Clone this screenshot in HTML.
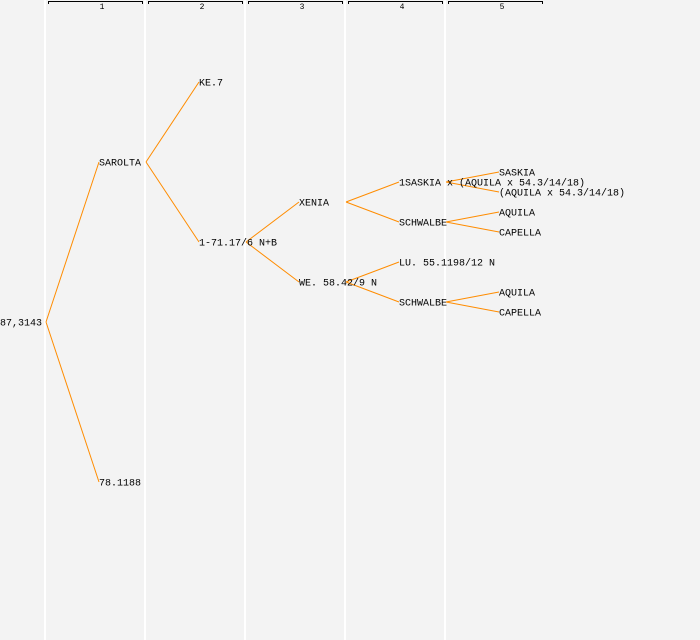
<!DOCTYPE html>
<html><head><meta charset="utf-8"><style>
html,body{margin:0;padding:0;background:#f3f3f3;}
svg{display:block;}
text{font-family:"Liberation Mono","DejaVu Sans Mono",monospace;font-size:10px;fill:#000;}
.n{font-size:8px;}
</style></head><body>
<svg width="700" height="640" xmlns="http://www.w3.org/2000/svg">
<rect width="700" height="640" fill="#f3f3f3"/>
<g stroke="#fff" stroke-width="2">
<line x1="45" y1="0" x2="45" y2="640"/><line x1="145" y1="0" x2="145" y2="640"/>
<line x1="245" y1="0" x2="245" y2="640"/><line x1="345" y1="0" x2="345" y2="640"/>
<line x1="445" y1="0" x2="445" y2="640"/>
</g>
<g stroke="#000" stroke-width="1" fill="none">
<path d="M48.5 4V1.5H142.5V4"/><path d="M148.5 4V1.5H242.5V4"/><path d="M248.5 4V1.5H342.5V4"/>
<path d="M348.5 4V1.5H442.5V4"/><path d="M448.5 4V1.5H542.5V4"/>
</g>
<g text-anchor="middle">
<text class="n" x="102" y="9">1</text><text class="n" x="202" y="9">2</text><text class="n" x="302" y="9">3</text><text class="n" x="402" y="9">4</text><text class="n" x="502" y="9">5</text>
</g>
<g stroke="#ff8c00" stroke-width="1" fill="none">
<path d="M46 322L99 162M46 322L99 482"/>
<path d="M146 162L199 82M146 162L199 242"/>
<path d="M246 242L299 202M246 242L299 282"/>
<path d="M346 202L399 182M346 202L399 222"/>
<path d="M346 282L399 262M346 282L399 302"/>
<path d="M446 182L499 172M446 182L499 192"/>
<path d="M446 222L499 212M446 222L499 232"/>
<path d="M446 302L499 292M446 302L499 312"/>
</g>
<g>
<text x="42" y="325.5" text-anchor="end">87,3143</text>
<text x="99" y="165.5">SAROLTA</text>
<text x="99" y="485.5">78.1188</text>
<text x="199" y="85.5">KE.7</text>
<text x="199" y="245.5">1-71.17/6 N+B</text>
<text x="299" y="205.5">XENIA</text>
<text x="299" y="285.5">WE. 58.42/9 N</text>
<text x="399" y="185.5">1SASKIA x (AQUILA x 54.3/14/18)</text>
<text x="399" y="225.5">SCHWALBE</text>
<text x="399" y="265.5">LU. 55.1198/12 N</text>
<text x="399" y="305.5">SCHWALBE</text>
<text x="499" y="175.5">SASKIA</text>
<text x="499" y="195.5">(AQUILA x 54.3/14/18)</text>
<text x="499" y="215.5">AQUILA</text>
<text x="499" y="235.5">CAPELLA</text>
<text x="499" y="295.5">AQUILA</text>
<text x="499" y="315.5">CAPELLA</text>
</g>
</svg>
</body></html>
